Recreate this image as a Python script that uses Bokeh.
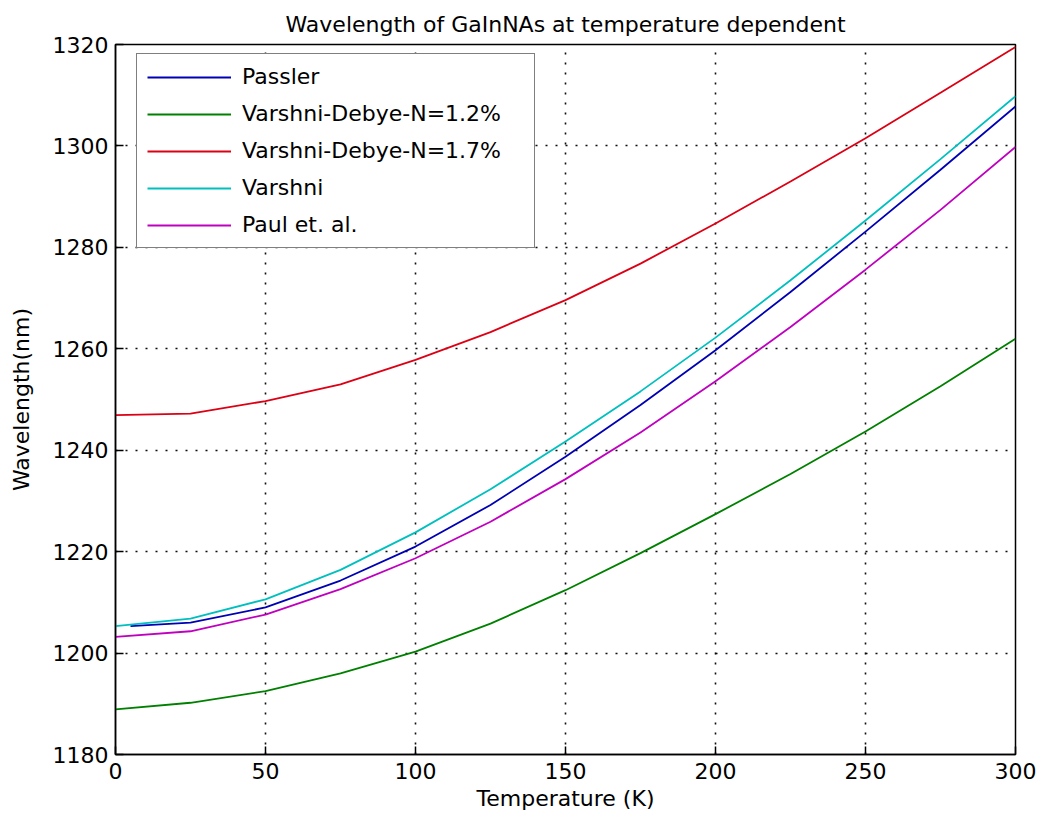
from bokeh.plotting import figure
from bokeh.models import Legend, LegendItem, FixedTicker
from bokeh.embed import file_html
from bokeh.resources import INLINE

# Data
temperature = [0, 25, 50, 75, 100, 125, 150, 175, 200, 225, 250, 275, 300]
temperature_passler = [5, 25, 50, 75, 100, 125, 150, 175, 200, 225, 250, 275, 300]
passler = [1205.3, 1206.0, 1209.0, 1214.3, 1221.0, 1229.2, 1238.7, 1248.9, 1259.7, 1271.2, 1283.1, 1295.3, 1307.8]
vd_n12 = [1188.9, 1190.2, 1192.5, 1196.0, 1200.3, 1205.8, 1212.4, 1219.7, 1227.4, 1235.3, 1243.7, 1252.6, 1262.0]
vd_n17 = [1246.9, 1247.2, 1249.7, 1253.0, 1257.8, 1263.3, 1269.6, 1276.8, 1284.7, 1293.0, 1301.5, 1310.5, 1319.5]
varshni = [1205.3, 1206.8, 1210.6, 1216.4, 1223.8, 1232.3, 1241.7, 1251.6, 1262.2, 1273.5, 1285.3, 1297.4, 1309.8]
paul = [1203.2, 1204.3, 1207.6, 1212.6, 1218.7, 1225.9, 1234.3, 1243.5, 1253.6, 1264.3, 1275.6, 1287.4, 1299.8]

series_names = ["Passler", "Varshni-Debye-N=1.2%", "Varshni-Debye-N=1.7%", "Varshni", "Paul et. al."]
x_ticks = [0, 50, 100, 150, 200, 250, 300]
y_ticks = [1180, 1200, 1220, 1240, 1260, 1280, 1300, 1320]

FONT = "DejaVu Sans"

p = figure(width=1046, height=829, output_backend="svg", toolbar_location=None,
           x_range=(0, 300), y_range=(1180, 1320),
           min_border_left=115, min_border_right=31, min_border_top=44, min_border_bottom=75,
           title="Wavelength of GaInNAs at temperature dependent")
p.background_fill_color = "white"
p.border_fill_color = "white"
p.outline_line_color = "black"
p.outline_line_width = 1.5

p.title.text_font = FONT
p.title.text_font_size = "22px"
p.title.text_font_style = "normal"
p.title.text_color = "black"
p.title.align = "center"
p.title.offset = 0
p.title.standoff = 16

for ax in (p.xaxis[0], p.yaxis[0]):
    ax.major_label_text_font = FONT
    ax.major_label_text_font_size = "22px"
    ax.major_label_text_color = "black"
    ax.axis_label_text_font = FONT
    ax.axis_label_text_font_size = "22px"
    ax.axis_label_text_font_style = "normal"
    ax.axis_label_text_color = "black"
    ax.axis_line_color = "black"
    ax.axis_line_width = 1.5
    ax.major_tick_in = 8
    ax.major_tick_out = 0
    ax.major_tick_line_color = "black"
    ax.major_tick_line_width = 1.5
    ax.minor_tick_line_color = None

p.xaxis[0].ticker = FixedTicker(ticks=x_ticks)
p.yaxis[0].ticker = FixedTicker(ticks=y_ticks)
p.xaxis[0].axis_label = "Temperature (K)"
p.yaxis[0].axis_label = "Wavelength(nm)"
p.xaxis[0].major_label_standoff = 8
p.xaxis[0].axis_label_standoff = 4
p.yaxis[0].major_label_standoff = 7
p.yaxis[0].axis_label_standoff = 16

for g in (p.xgrid[0], p.ygrid[0]):
    g.grid_line_color = "black"
    g.grid_line_dash = "2 8"
    g.grid_line_width = 1.6
    g.grid_line_alpha = 0.95
p.xgrid[0].ticker = FixedTicker(ticks=x_ticks)
p.ygrid[0].ticker = FixedTicker(ticks=y_ticks)

colors = ["#0000b4", "#008000", "#dc0014", "#00bfbf", "#bf00bf"]
lw = 1.8
r1 = p.line(temperature_passler, passler, line_color=colors[0], line_width=lw)
r2 = p.line(temperature, vd_n12, line_color=colors[1], line_width=lw)
r3 = p.line(temperature, vd_n17, line_color=colors[2], line_width=lw)
r4 = p.line(temperature, varshni, line_color=colors[3], line_width=lw)
r5 = p.line(temperature, paul, line_color=colors[4], line_width=lw)

items = [LegendItem(label=n, renderers=[r]) for n, r in zip(series_names, [r1, r2, r3, r4, r5])]
legend = Legend(items=items, location=(21, 506),
                label_text_font=FONT, label_text_font_size="22px", label_text_color="black",
                glyph_width=84, glyph_height=20, label_height=20, label_width=282,
                label_standoff=11, spacing=12, padding=10, margin=0,
                border_line_color="black", border_line_width=1.5,
                background_fill_color="white", background_fill_alpha=1.0)
p.add_layout(legend, "center")

open("out.html", "w").write(file_html(p, INLINE))
